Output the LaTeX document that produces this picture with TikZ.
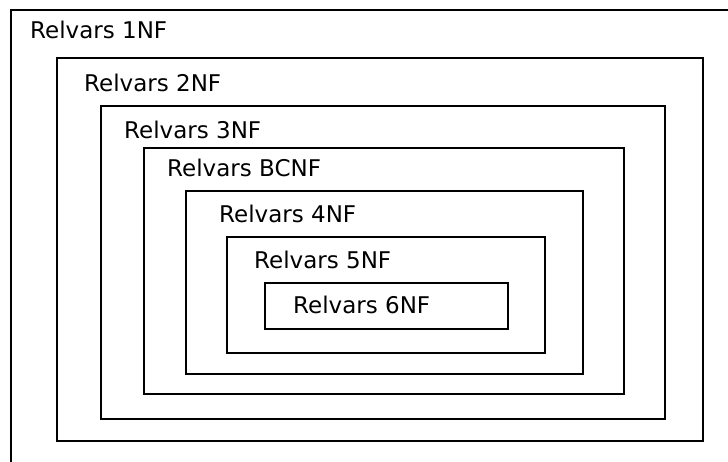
\documentclass[tikz,border=0pt]{standalone}
\usepackage{fontspec}
\setmainfont{DejaVu Sans}
\usepackage{tikz}
\tikzset{>=latex}

\begin{document}
\begin{tikzpicture}[
    x = 1pt, y = -1pt,
    d0/.style = {line width = 1.8},
    lbl/.style = {font = \fontsize{23}{27}\selectfont, anchor = base west, inner sep = 0}
]

\useasboundingbox (0,0) rectangle (728,461);

\begin{scope}
\clip (0,0) rectangle (728,461);
\draw[d0] (11,10) rectangle (745,480);
\end{scope}
\node[lbl] (nf1) at (30,38) {Relvars 1NF};

\draw[d0] (57,58) rectangle (703,441);
\node[lbl] (nf2) at (84,91) {Relvars 2NF};

\draw[d0] (101,106) rectangle (665,419);
\node[lbl] (nf3) at (124,138) {Relvars 3NF};

\draw[d0] (144,148) rectangle (624,394);
\node[lbl] (bcnf) at (167,176) {Relvars BCNF};

\draw[d0] (186,191) rectangle (583,374);
\node[lbl] (nf4) at (219,222) {Relvars 4NF};

\draw[d0] (227,237) rectangle (545,353);
\node[lbl] (nf5) at (254,268) {Relvars 5NF};

\draw[d0] (265,283) rectangle (508,329);
\node[lbl] (nf6) at (293,313) {Relvars 6NF};

\end{tikzpicture}
\end{document}
